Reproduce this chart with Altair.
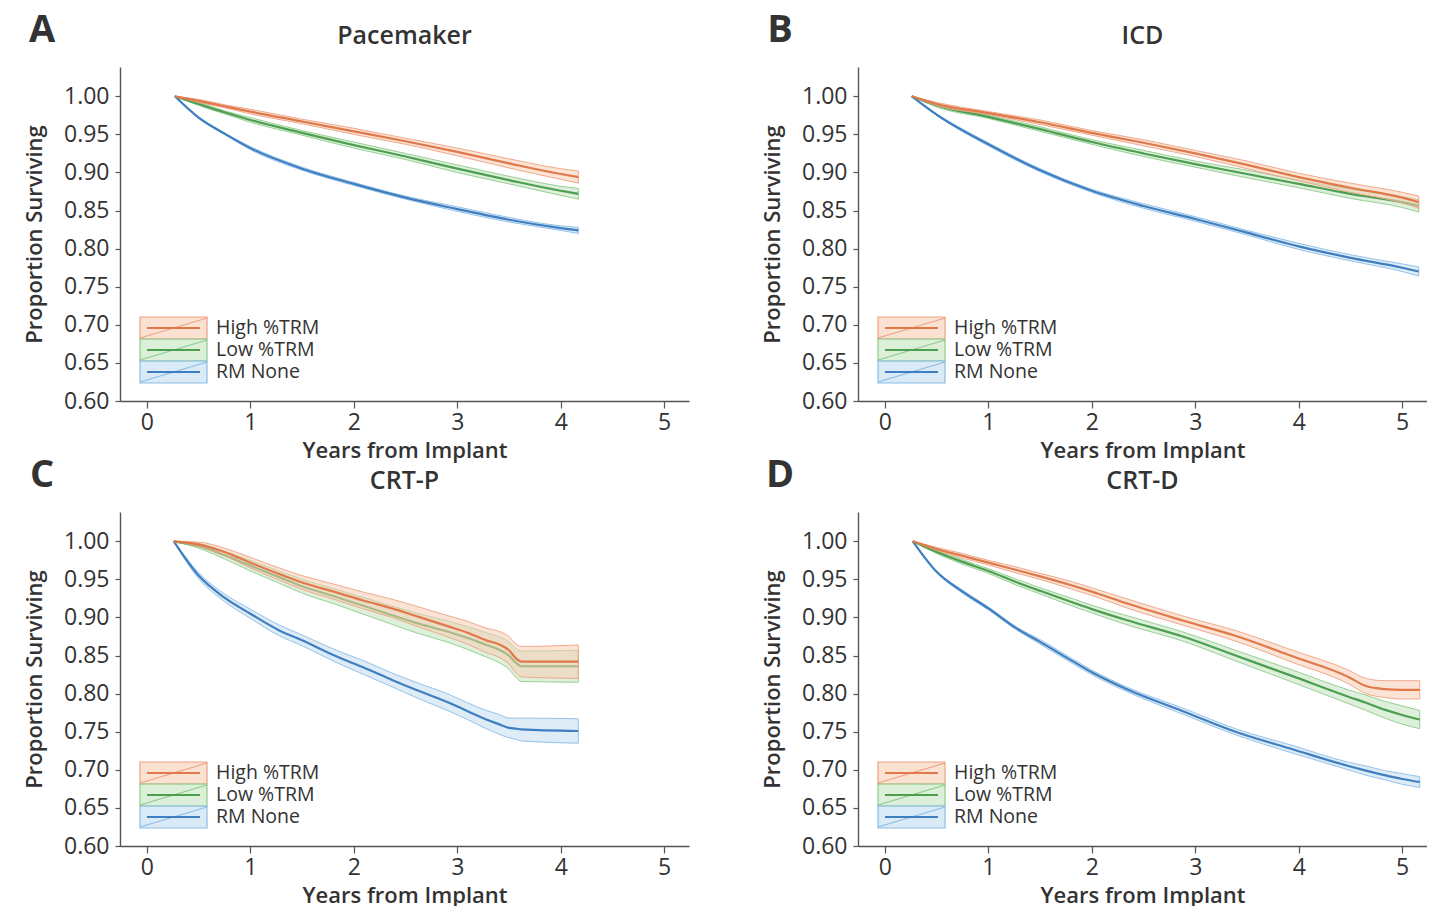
import altair as alt
import pandas as pd

SERIES = ["High %TRM", "Low %TRM", "RM None"]
LINE_COLORS = ["#e0784a", "#4b9f4f", "#3f7ec1"]
BAND_FILL = ["#f7cdb4", "#c3e4c0", "#c2dcf2"]
BAND_STROKE = ["#eca283", "#8ecb8b", "#8bbde6"]

X_TICKS = [0, 1, 2, 3, 4, 5]
Y_TICKS = [0.60, 0.65, 0.70, 0.75, 0.80, 0.85, 0.90, 0.95, 1.00]

# ---- Panel A: Pacemaker ----
A_T = [0.27, 0.5, 0.75, 1.0, 1.5, 2.0, 2.5, 3.0, 3.5, 4.0, 4.17]
A_HIGH = [1.000, 0.994, 0.987, 0.980, 0.967, 0.954, 0.941, 0.927, 0.912, 0.898, 0.894]
A_LOW = [1.000, 0.990, 0.979, 0.969, 0.952, 0.936, 0.921, 0.905, 0.890, 0.876, 0.872]
A_NONE = [1.000, 0.972, 0.951, 0.932, 0.905, 0.885, 0.867, 0.852, 0.838, 0.827, 0.824]
A_HW_HIGH = [0.0, 0.002, 0.002, 0.003, 0.003, 0.004, 0.004, 0.005, 0.006, 0.007, 0.008]
A_HW_LOW = [0.0, 0.002, 0.002, 0.003, 0.003, 0.004, 0.004, 0.005, 0.005, 0.006, 0.007]
A_HW_NONE = [0.0, 0.001, 0.001, 0.002, 0.002, 0.002, 0.002, 0.003, 0.003, 0.003, 0.004]

# ---- Panel B: ICD ----
B_T = [0.26, 0.5, 1.0, 1.5, 2.0, 2.5, 3.0, 3.5, 4.0, 4.5, 5.0, 5.16]
B_HIGH = [1.000, 0.990, 0.978, 0.966, 0.952, 0.939, 0.925, 0.910, 0.894, 0.880, 0.867, 0.861]
B_LOW = [1.000, 0.988, 0.973, 0.957, 0.940, 0.925, 0.911, 0.898, 0.885, 0.872, 0.861, 0.856]
B_NONE = [1.000, 0.976, 0.937, 0.903, 0.876, 0.856, 0.839, 0.821, 0.803, 0.788, 0.775, 0.770]
B_HW_HIGH = [0.0, 0.002, 0.002, 0.003, 0.003, 0.004, 0.004, 0.005, 0.005, 0.006, 0.007, 0.008]
B_HW_LOW = [0.0, 0.002, 0.002, 0.003, 0.003, 0.004, 0.004, 0.005, 0.005, 0.006, 0.007, 0.008]
B_HW_NONE = [0.0, 0.001, 0.002, 0.002, 0.002, 0.003, 0.003, 0.003, 0.004, 0.004, 0.005, 0.006]

# ---- Panel C: CRT-P ----
C_T = [0.26, 0.5, 0.75, 1.0, 1.28, 1.5, 1.83, 2.1, 2.37, 2.6, 2.92, 3.1, 3.28, 3.4, 3.5, 3.57, 3.62, 4.17]
C_HIGH = [1.000, 0.996, 0.986, 0.972, 0.957, 0.946, 0.933, 0.922, 0.912, 0.902, 0.888, 0.880,
          0.870, 0.865, 0.857, 0.846, 0.842, 0.842]
C_LOW = [1.000, 0.994, 0.982, 0.968, 0.953, 0.941, 0.927, 0.915, 0.903, 0.893, 0.881, 0.873,
         0.864, 0.858, 0.850, 0.840, 0.836, 0.836]
C_NONE = [1.000, 0.955, 0.926, 0.905, 0.883, 0.870, 0.849, 0.834, 0.818, 0.805, 0.788, 0.777,
          0.766, 0.760, 0.755, 0.754, 0.753, 0.751]
C_HW_HIGH = [0.0, 0.003, 0.005, 0.007, 0.008, 0.009, 0.010, 0.011, 0.012, 0.013, 0.014, 0.015,
             0.016, 0.017, 0.018, 0.019, 0.020, 0.022]
C_HW_LOW = [0.0, 0.003, 0.005, 0.007, 0.008, 0.009, 0.010, 0.011, 0.012, 0.013, 0.014, 0.015,
            0.016, 0.017, 0.018, 0.019, 0.020, 0.021]
C_HW_NONE = [0.0, 0.004, 0.005, 0.006, 0.007, 0.007, 0.008, 0.009, 0.009, 0.010, 0.011, 0.011,
             0.012, 0.013, 0.013, 0.014, 0.015, 0.016]

# ---- Panel D: CRT-D ----
D_T = [0.27, 0.5, 0.75, 1.0, 1.28, 1.5, 1.81, 2.0, 2.35, 2.88, 3.41, 3.94, 4.48, 4.65, 4.83, 5.0, 5.17]
D_HIGH = [1.000, 0.990, 0.981, 0.972, 0.962, 0.954, 0.942, 0.934, 0.918, 0.896, 0.875, 0.849,
          0.822, 0.810, 0.806, 0.805, 0.805]
D_LOW = [1.000, 0.986, 0.973, 0.961, 0.946, 0.935, 0.920, 0.911, 0.896, 0.875, 0.849, 0.823,
         0.796, 0.788, 0.779, 0.772, 0.766]
D_NONE = [1.000, 0.960, 0.934, 0.912, 0.885, 0.868, 0.843, 0.828, 0.805, 0.777, 0.749, 0.727,
          0.705, 0.699, 0.693, 0.688, 0.684]
D_HW_HIGH = [0.0, 0.002, 0.003, 0.003, 0.004, 0.004, 0.005, 0.005, 0.006, 0.006, 0.007, 0.008,
             0.009, 0.010, 0.011, 0.012, 0.012]
D_HW_LOW = [0.0, 0.002, 0.003, 0.003, 0.004, 0.004, 0.005, 0.005, 0.006, 0.006, 0.007, 0.008,
            0.009, 0.010, 0.011, 0.012, 0.012]
D_HW_NONE = [0.0, 0.001, 0.002, 0.002, 0.002, 0.003, 0.003, 0.003, 0.003, 0.004, 0.004, 0.005,
             0.005, 0.006, 0.006, 0.007, 0.007]

W = 569
H = 334
FONT = "Open Sans"
TXT = "#333333"
AXC = "#555555"

XSCALE = alt.Scale(domain=[-0.26, 5.24], nice=False, zero=False)
YSCALE = alt.Scale(domain=[0.60, 1.0385], nice=False, zero=False)
XAXIS = alt.Axis(values=X_TICKS, format="d", title="Years from Implant", grid=False,
                 labelFontSize=23, titleFontSize=22, titleFontWeight=600, tickSize=7,
                 labelPadding=3, titlePadding=6, domainColor=AXC, tickColor=AXC,
                 labelColor=TXT, titleColor=TXT, domainWidth=1.4, tickWidth=1.2,
                 labelFont=FONT, titleFont=FONT)
YAXIS = alt.Axis(values=Y_TICKS, format=".2f", title="Proportion Surviving", grid=False,
                 labelFontSize=23, titleFontSize=22, titleFontWeight=600, tickSize=5,
                 labelPadding=6, titlePadding=17, domainColor=AXC, tickColor=AXC,
                 labelColor=TXT, titleColor=TXT, domainWidth=1.4, tickWidth=1.2,
                 labelFont=FONT, titleFont=FONT)


def one(values):
    return alt.Data(values=[values])


def panel(letter, title, t, vals, hws):
    layers = []
    for i in [2, 1, 0]:
        df = pd.DataFrame({
            "t": t,
            "v": vals[i],
            "lo": [v - h for v, h in zip(vals[i], hws[i])],
            "hi": [v + h for v, h in zip(vals[i], hws[i])],
        })
        base = alt.Chart(df)
        band = base.mark_area(fill=BAND_FILL[i], fillOpacity=0.55, stroke=BAND_STROKE[i],
                              strokeWidth=1.0, strokeOpacity=0.9, interpolate="monotone").encode(
            x=alt.X("t:Q", scale=XSCALE, axis=XAXIS),
            y=alt.Y("lo:Q", scale=YSCALE, axis=YAXIS),
            y2="hi:Q",
        )
        line = base.mark_line(color=LINE_COLORS[i], strokeWidth=2.2,
                              interpolate="monotone").encode(
            x=alt.X("t:Q", scale=XSCALE, axis=XAXIS),
            y=alt.Y("v:Q", scale=YSCALE, axis=YAXIS),
        )
        layers += [band, line]

    # legend (inside plot, lower-left)
    for i, name in enumerate(SERIES):
        yc = H - 73 + 22 * i
        box = alt.Chart(one({"s": name})).mark_rect(
            fill=BAND_FILL[i], fillOpacity=0.6, stroke=BAND_STROKE[i], strokeWidth=1.2
        ).encode(x=alt.value(20), x2=alt.value(87), y=alt.value(yc - 11), y2=alt.value(yc + 11))
        diag = alt.Chart(one({"s": name})).mark_rule(
            color=BAND_STROKE[i], strokeWidth=1.2
        ).encode(x=alt.value(20), x2=alt.value(87), y=alt.value(yc + 10), y2=alt.value(yc - 10))
        mid = alt.Chart(one({"s": name})).mark_rule(
            color=LINE_COLORS[i], strokeWidth=2.2
        ).encode(x=alt.value(27), x2=alt.value(80), y=alt.value(yc), y2=alt.value(yc))
        lab = alt.Chart(one({"s": name})).mark_text(
            align="left", baseline="middle", fontSize=19.5, color=TXT, font=FONT
        ).encode(x=alt.value(96), y=alt.value(yc), text="s:N")
        layers += [box, diag, mid, lab]

    tag = alt.Chart(one({"k": letter})).mark_text(
        align="center", baseline="middle", fontSize=38, fontWeight="bold", color=TXT, font=FONT
    ).encode(x=alt.value(-78), y=alt.value(-36), text="k:N")
    head = alt.Chart(one({"k": title})).mark_text(
        align="center", baseline="middle", fontSize=25, fontWeight=600, color=TXT, font=FONT
    ).encode(x=alt.value(W / 2), y=alt.value(-31), text="k:N")
    layers += [tag, head]

    return alt.layer(*layers).properties(width=W, height=H)


pA = panel("A", "Pacemaker", A_T, [A_HIGH, A_LOW, A_NONE], [A_HW_HIGH, A_HW_LOW, A_HW_NONE])
pB = panel("B", "ICD", B_T, [B_HIGH, B_LOW, B_NONE], [B_HW_HIGH, B_HW_LOW, B_HW_NONE])
pC = panel("C", "CRT-P", C_T, [C_HIGH, C_LOW, C_NONE], [C_HW_HIGH, C_HW_LOW, C_HW_NONE])
pD = panel("D", "CRT-D", D_T, [D_HIGH, D_LOW, D_NONE], [D_HW_HIGH, D_HW_LOW, D_HW_NONE])

chart = alt.concat(pA, pB, pC, pD, columns=2, bounds="flush",
                   spacing=alt.RowColnumber(row=111, column=169)).properties(
    padding={"left": 23, "top": 12, "right": 0, "bottom": 0}
).configure(font=FONT).configure_view(stroke=None)

chart.save("out.html", embed_options={"renderer": "svg", "actions": False})
